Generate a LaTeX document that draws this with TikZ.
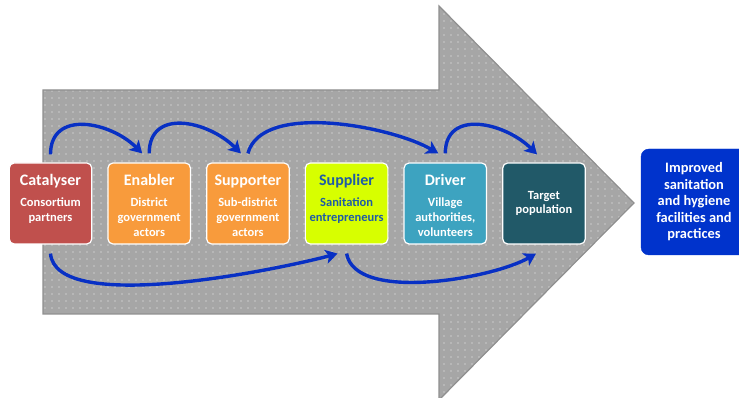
\documentclass[tikz,border=0pt]{standalone}
\usepackage{fontspec}
\setmainfont{Carlito}
\usetikzlibrary{positioning,arrows.meta,patterns.meta}
\definecolor{catred}{HTML}{C0504D}
\definecolor{enorange}{HTML}{F89B3C}
\definecolor{suplime}{HTML}{D7FF00}
\definecolor{supblue}{HTML}{1F5BA6}
\definecolor{drvteal}{HTML}{3DA3C0}
\definecolor{tgtteal}{HTML}{215968}
\definecolor{resblue}{HTML}{0033CC}
\definecolor{flowblue}{HTML}{0830C4}
\definecolor{bigfill}{HTML}{A6A6A6}
\definecolor{bigedge}{HTML}{8F8F8F}
\newcommand{\stagetext}[2]{\parbox[c][81pt][t]{80pt}{\centering
    \fontsize{16}{19}\selectfont\rule{0pt}{23pt}#1\par\vspace{6pt}
    \fontsize{12.5}{15}\selectfont#2\par}}
\begin{document}
\begin{tikzpicture}[x=1pt,y=1pt,node distance=15pt,
    stage/.style={draw=white,line width=1.2pt,rounded corners=5pt,
      minimum width=82.5pt,minimum height=81pt,inner sep=0pt,
      text=white,font=\bfseries},
    flow/.style={draw=flowblue,line width=3.4pt,
      -{Stealth[length=12pt,width=14pt,inset=3pt]}}]
  \useasboundingbox (0,0) rectangle (739,398);
  % the big arrow behind the stages
  \path[draw=bigedge,line width=1.2pt,preaction={fill=bigfill},
    pattern={Dots[distance=6.5pt,radius=0.65pt]},pattern color=white!85!bigfill]
    (43,308) -- (439,308) -- (439,392) -- (634,195) -- (439,-2)
    -- (439,84) -- (43,84) -- cycle;
  \node[stage,fill=catred] (cat) at (50.5,194.5)
    {\stagetext{Catalyser}{Consortium\\partners}};
  \node[stage,fill=enorange,right=of cat] (ena)
    {\stagetext{Enabler}{District\\government\\actors}};
  \node[stage,fill=enorange,right=of ena] (sppt)
    {\stagetext{Supporter}{Sub-district\\government\\actors}};
  \node[stage,fill=suplime,text=supblue,right=of sppt] (supl)
    {\stagetext{Supplier}{Sanitation\\entrepreneurs}};
  \node[stage,fill=drvteal,right=of supl] (drv)
    {\stagetext{Driver}{Village\\authorities,\\volunteers}};
  \node[stage,fill=tgtteal,right=of drv,align=center,
    font=\bfseries\fontsize{12.5}{14}\selectfont] (tgt) {Target\\population};
  \node[draw=resblue,fill=resblue,rounded corners=8pt,minimum width=106pt,
    minimum height=106pt,align=center,text=white,
    font=\bfseries\fontsize{14.4}{16.5}\selectfont] (res) at (694,196)
    {Improved\\sanitation\\and hygiene\\facilities and\\practices};
  % hand-overs above
  \draw[flow] ([yshift=8pt]cat.north) to[out=90,in=135,distance=45pt]
    ([xshift=-7pt,yshift=9pt]ena.north);
  \draw[flow] ([yshift=9pt]ena.north) to[out=90,in=135,distance=46pt]
    ([xshift=-7pt,yshift=9pt]sppt.north);
  \draw[flow] ([yshift=9pt]sppt.north) to[out=75,in=150,distance=54pt]
    ([xshift=-7pt,yshift=9pt]drv.north);
  \draw[flow] ([yshift=9pt]drv.north) to[out=90,in=135,distance=45pt]
    ([xshift=-7pt,yshift=8pt]tgt.north);
  % and below
  \draw[flow] ([yshift=-9pt]cat.south) to[out=-85,in=-165,distance=62pt]
    ([xshift=-9pt,yshift=-9pt]supl.south);
  \draw[flow] ([yshift=-9pt]supl.south) to[out=-80,in=-150,distance=50pt]
    ([xshift=-8pt,yshift=-9pt]tgt.south);
\end{tikzpicture}
\end{document}
